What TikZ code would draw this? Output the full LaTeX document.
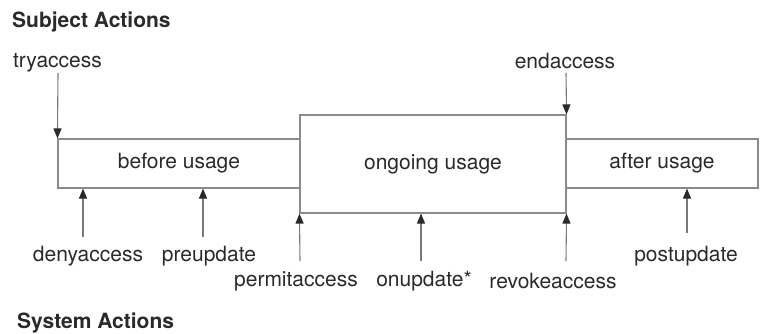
\documentclass[tikz,border=0pt]{standalone}
\usepackage{fontspec}
\setmainfont{TeX Gyre Heros}
\usetikzlibrary{arrows.meta}
\definecolor{boxline}{HTML}{8A8A8A}
\definecolor{arrline}{HTML}{7A7A7A}
\definecolor{tipcol}{HTML}{2A2A2A}
\definecolor{txt}{HTML}{2A2A2A}
\tikzset{
  phase/.style={draw=boxline, line width=1.1pt, inner sep=0pt, fill=white,
    text=txt, font=\fontsize{21}{25}\selectfont},
  lbl/.style={inner sep=0pt, text=txt, font=\fontsize{21}{25}\selectfont},
  heading/.style={inner sep=0pt, text=txt, anchor=west, font=\fontsize{21}{25}\selectfont\bfseries},
  act/.style={draw=arrline, line width=1.1pt,
    -{Triangle[length=10pt,width=8pt,color=tipcol,fill=tipcol]}}
}
\begin{document}
\begin{tikzpicture}[x=1pt,y=-1pt]
\useasboundingbox (0,0) rectangle (760,334);

% headings
\node[heading] (subj) at (12,22) {Subject Actions};
\node[heading] (syst) at (17,323) {System Actions};

% usage phases
\node[phase, minimum width=242pt, minimum height=49pt] (before) at (179,163.5) {before usage};
\node[phase, minimum width=192pt, minimum height=49pt] (after) at (662,163.5) {after usage};
\node[phase, minimum width=266pt, minimum height=98pt] (ongoing) at (433,164) {ongoing usage};

% subject actions
\node[lbl] (try) at (57.5,63) {tryaccess};
\node[lbl] (end) at (565,61) {endaccess};
\coordinate (tryt) at (58,73);
\coordinate (endt) at (566,73);
\draw[act] (tryt) -- (before.north west);
\draw[act] (endt) -- (ongoing.north east);

% system actions
\node[lbl] (deny) at (88,256) {denyaccess};
\node[lbl] (pre) at (209,256) {preupdate};
\node[lbl] (permit) at (296,281) {permitaccess};
\node[lbl] (onupd) at (424,281) {onupdate*};
\node[lbl] (revoke) at (553,281) {revokeaccess};
\node[lbl] (post) at (686,256) {postupdate};

\coordinate (denyt) at (83,237);
\coordinate (pret) at (203,237);
\coordinate (permitt) at (300,261);
\coordinate (onupdt) at (421,261);
\coordinate (revoket) at (566,261);
\coordinate (postt) at (687,233);

\draw[act] (denyt) -- (denyt |- before.south);
\draw[act] (pret) -- (pret |- before.south);
\draw[act] (permitt) -- (ongoing.south west);
\draw[act] (onupdt) -- (onupdt |- ongoing.south);
\draw[act] (revoket) -- (ongoing.south east);
\draw[act] (postt) -- (postt |- after.south);
\end{tikzpicture}
\end{document}
